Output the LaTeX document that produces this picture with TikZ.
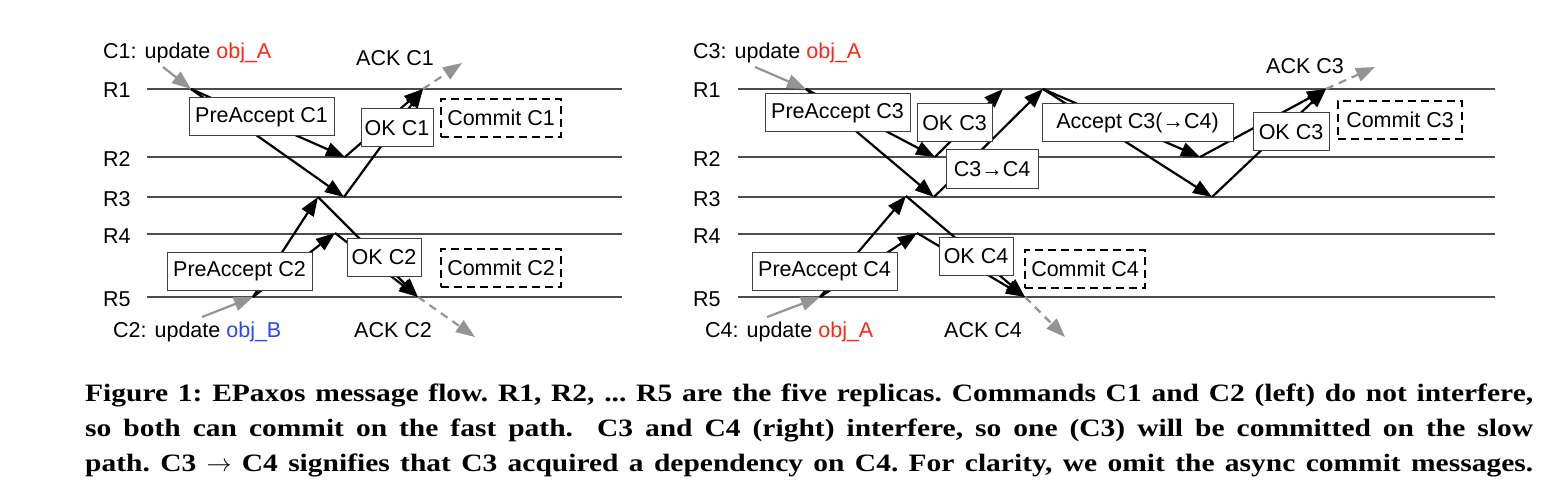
\documentclass[tikz,border=0pt]{standalone}
\usepackage{fontspec}
\setmainfont{Liberation Sans}
\newfontfamily\capfont[FakeStretch=1.18]{Liberation Serif}
\usetikzlibrary{arrows.meta}
\definecolor{objred}{RGB}{250,40,20}
\definecolor{objblue}{RGB}{40,70,250}
\begin{document}
\begin{tikzpicture}[x=1pt,y=-1pt,
  every node/.style={font=\fontsize{21.5}{25}\selectfont},
  rline/.style={draw=black!70,line width=1.3pt},
  msg/.style={draw=black,line width=2.2pt,-{Triangle[length=19pt,width=14pt]}},
  cli/.style={draw=black!42,line width=2.2pt,-{Triangle[length=19pt,width=14pt]}},
  ack/.style={cli,dash pattern=on 8pt off 6pt},
  box/.style={draw=black!75,line width=1pt,fill=white,inner sep=0pt,minimum height=38pt},
  cbox/.style={draw=black,line width=2pt,dash pattern=on 8pt off 5pt,fill=white,inner sep=0pt,minimum height=38pt,minimum width=120pt},
  lbl/.style={inner sep=0pt,anchor=base west},
  albl/.style={inner sep=0pt,anchor=base},
  captext/.style={inner sep=0pt,anchor=base west,font=\capfont\bfseries\fontsize{25}{35}\selectfont\frenchspacing},
]
\useasboundingbox (0,0) rectangle (1558,500);
\fill[white] (0,0) rectangle (1558,500);

% replica lines
\foreach \n/\y in {1/89,2/157,3/197,4/234,5/297}{
  \node[lbl] (LR\n) at (103,\y+9) {R\n};
  \coordinate (La\n) at (147,\y);
  \coordinate (Lb\n) at (622,\y);
  \draw[rline] (La\n) -- (Lb\n);
  \node[lbl] (RR\n) at (693,\y+9) {R\n};
  \coordinate (Ra\n) at (738,\y);
  \coordinate (Rb\n) at (1495,\y);
  \draw[rline] (Ra\n) -- (Rb\n);
}

% ---------- left diagram ----------
\node[lbl] (c1txt) at (103,59) {C1: update \textcolor{objred}{obj\_A}};
\coordinate (c1s) at (163,67);
\coordinate (c1o) at (191,89);
\coordinate (c1r2) at (345,157);
\coordinate (c1r3) at (344,197);
\coordinate (c1r1) at (423,89);
\coordinate (c1ack) at (462,63);
\node[albl] (ack1) at (395,66) {ACK C1};

\coordinate (c2s) at (202,317);
\coordinate (c2o) at (253,297);
\coordinate (c2r3) at (318,197);
\coordinate (c2r4) at (335,233);
\coordinate (c2r5) at (418,297);
\coordinate (c2ack) at (475,337);
\node[lbl] (c2txt) at (113,337) {C2: update \textcolor{objblue}{obj\_B}};
\node[albl] (ack2) at (393,337) {ACK C2};

\draw[cli] (c1s) -- (c1o);
\draw[msg] (c1o) -- (c1r2);
\draw[msg] (c1o) -- (c1r3);
\draw[msg] (c1r2) -- (c1r1);
\draw[msg] (c1r3) -- (c1r1);
\draw[ack] (c1r1) -- (c1ack);

\draw[cli] (c2s) -- (c2o);
\draw[msg] (c2o) -- (c2r3);
\draw[msg] (c2o) -- (c2r4);
\draw[msg] (c2r3) -- (c2r5);
\draw[msg] (c2r4) -- (c2r5);
\draw[ack] (c2r5) -- (c2ack);

\node[box,minimum width=145pt] (pa1) at (261.5,117) {PreAccept C1};
\node[box,minimum width=72pt] (ok1) at (397,128) {OK C1};
\node[cbox] (cm1) at (501,118) {Commit C1};
\node[box,minimum width=145pt] (pa2) at (239.5,271.5) {PreAccept C2};
\node[box,minimum width=74pt] (ok2) at (384,257) {OK C2};
\node[cbox] (cm2) at (501,268) {Commit C2};

% ---------- right diagram ----------
\node[lbl] (c3txt) at (693,59) {C3: update \textcolor{objred}{obj\_A}};
\coordinate (c3s) at (755,67);
\coordinate (c3o) at (806,89);
\coordinate (c3r2) at (935,157);
\coordinate (c3r3) at (934,197);
\coordinate (c3r1a) at (1003,89);
\coordinate (c3r1b) at (1043,89);
\coordinate (c3r2b) at (1200,157);
\coordinate (c3r3b) at (1212,197);
\coordinate (c3r1c) at (1326,89);
\coordinate (c3ack) at (1375,67);
\node[albl] (ack3) at (1305,74) {ACK C3};

\coordinate (c4s) at (767,317);
\coordinate (c4o) at (820,297);
\coordinate (c4r3) at (906,196);
\coordinate (c4r4) at (917,233);
\coordinate (c4r5) at (1025,297);
\coordinate (c4ack) at (1065,337);
\node[lbl] (c4txt) at (705,337) {C4: update \textcolor{objred}{obj\_A}};
\node[albl] (ack4) at (983,337) {ACK C4};

\draw[cli] (c3s) -- (c3o);
\draw[msg] (c3o) -- (c3r2);
\draw[msg] (c3o) -- (c3r3);
\draw[msg] (c3r2) -- (c3r1a);
\draw[msg] (c3r3) -- (c3r1b);
\draw[msg] (c3r1b) -- (c3r2b);
\draw[msg] (c3r1b) -- (c3r3b);
\draw[msg] (c3r2b) -- (c3r1c);
\draw[msg] (c3r3b) -- (c3r1c);
\draw[ack] (c3r1c) -- (c3ack);

\draw[cli] (c4s) -- (c4o);
\draw[msg] (c4o) -- (c4r3);
\draw[msg] (c4o) -- (c4r4);
\draw[msg] (c4r3) -- (c4r5);
\draw[msg] (c4r4) -- (c4r5);
\draw[ack] (c4r5) -- (c4ack);

\node[box,minimum width=145pt] (pa3) at (837.5,113) {PreAccept C3};
\node[box,minimum width=75pt] (ok3a) at (954.5,123) {OK C3};
\node[box,minimum width=92pt] (dep) at (992,169) {C3→C4};
\node[box,minimum width=191pt] (acc3) at (1137.5,123) {Accept C3(→C4)};
\node[box,minimum width=76pt] (ok3b) at (1291,132) {OK C3};
\node[cbox,minimum width=124pt] (cm3) at (1400,120) {Commit C3};
\node[box,minimum width=145pt] (pa4) at (824.5,271.5) {PreAccept C4};
\node[box,minimum width=74pt] (ok4) at (976,256) {OK C4};
\node[cbox] (cm4) at (1085,268.5) {Commit C4};

% ---------- caption ----------
\node[captext] (cap1) at (85,401) {\makebox[1448pt][s]{Figure 1: EPaxos message flow. R1, R2, ... R5 are the five replicas. Commands C1 and C2 (left) do not interfere,}};
\node[captext] (cap2) at (85,436) {\makebox[1448pt][s]{so both can commit on the fast path. \ C3 and C4 (right) interfere, so one (C3) will be committed on the slow}};
\node[captext] (cap3) at (85,471) {\makebox[1448pt][s]{path. C3 $\rightarrow$ C4 signifies that C3 acquired a dependency on C4. For clarity, we omit the async commit messages.}};
\end{tikzpicture}
\end{document}
